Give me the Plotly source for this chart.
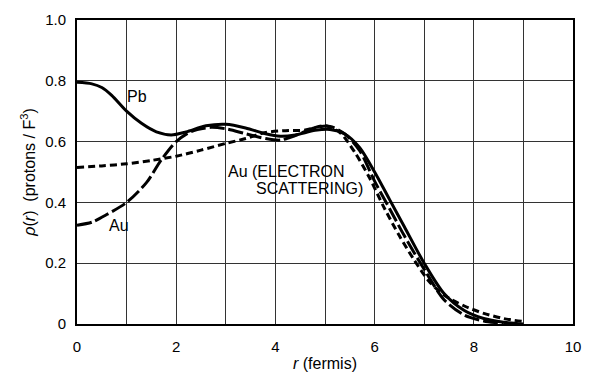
import plotly.graph_objects as go

# Pb (solid)
pb_r = [0, 0.3, 0.5, 0.7, 1.0, 1.3, 1.6, 1.9, 2.2, 2.6, 3.0, 3.4, 3.8, 4.1, 4.4, 4.8, 5.1, 5.4, 5.7, 6.0, 6.3, 6.6, 7.0, 7.4, 7.8, 8.2, 8.6, 9.0]
pb_rho = [0.795, 0.79, 0.778, 0.752, 0.70, 0.66, 0.632, 0.622, 0.632, 0.652, 0.657, 0.645, 0.626, 0.618, 0.622, 0.637, 0.64, 0.625, 0.58, 0.50, 0.41, 0.32, 0.20, 0.10, 0.045, 0.018, 0.006, 0.0]

# Au (long dash)
au_r = [0, 0.3, 0.6, 1.0, 1.4, 1.7, 2.0, 2.3, 2.7, 3.0, 3.4, 3.8, 4.1, 4.4, 4.8, 5.1, 5.4, 5.7, 6.0, 6.3, 6.6, 7.0, 7.4, 7.8, 8.2, 8.6]
au_rho = [0.325, 0.335, 0.36, 0.40, 0.465, 0.54, 0.60, 0.633, 0.647, 0.642, 0.626, 0.61, 0.605, 0.62, 0.646, 0.65, 0.625, 0.57, 0.47, 0.38, 0.29, 0.18, 0.08, 0.03, 0.01, 0.002]

# Au electron scattering (short dash)
el_r = [0, 0.5, 1.0, 1.5, 2.0, 2.5, 3.0, 3.4, 3.8, 4.2, 4.6, 5.0, 5.3, 5.6, 5.9, 6.2, 6.5, 6.8, 7.1, 7.4, 7.8, 8.2, 8.6, 9.0]
el_rho = [0.515, 0.52, 0.527, 0.538, 0.552, 0.572, 0.594, 0.61, 0.63, 0.636, 0.638, 0.652, 0.63, 0.565, 0.48, 0.38, 0.29, 0.21, 0.14, 0.095, 0.06, 0.035, 0.018, 0.008]

x_ticks = [0, 2, 4, 6, 8, 10]
x_labels = ["0", "2", "4", "6", "8", "10"]
x_minor = [1, 3, 5, 7, 9]
y_ticks = [0, 0.2, 0.4, 0.6, 0.8, 1.0]
y_labels = ["0", "0.2", "0.4", "0.6", "0.8", "1.0"]

FONT = "Liberation Sans, Arial, sans-serif"

fig = go.Figure()
fig.add_trace(go.Scatter(x=el_r, y=el_rho, mode="lines", hoverinfo="skip",
                         line=dict(color="black", width=3, dash="7px,4px", shape="spline", smoothing=0.8)))
fig.add_trace(go.Scatter(x=au_r, y=au_rho, mode="lines", hoverinfo="skip",
                         line=dict(color="black", width=3, dash="15px,4px", shape="spline", smoothing=0.8)))
fig.add_trace(go.Scatter(x=pb_r, y=pb_rho, mode="lines", hoverinfo="skip",
                         line=dict(color="black", width=3, shape="spline", smoothing=0.8)))

ann = dict(showarrow=False, font=dict(family=FONT, size=16, color="black"), xanchor="left")
fig.add_annotation(x=0.97, y=0.75, text="Pb", **ann)
fig.add_annotation(x=0.6, y=0.325, text="Au", **ann)
fig.add_annotation(x=3.0, y=0.502, text="Au (ELECTRON", **ann)
fig.add_annotation(x=3.57, y=0.446, text="SCATTERING)", **ann)

fig.update_layout(
    width=592, height=381,
    margin=dict(l=77, r=11, t=18, b=51),
    paper_bgcolor="white", plot_bgcolor="white",
    showlegend=False,
    font=dict(family=FONT, size=15, color="black"),
    xaxis=dict(range=[0, 10], tickvals=x_ticks, ticktext=x_labels, showgrid=True,
               gridcolor="#333", gridwidth=1, showline=True, linecolor="black", linewidth=2,
               mirror=True, ticks="", zeroline=False, ticklabelstandoff=8,
               minor=dict(tickvals=x_minor, showgrid=True, gridcolor="#333", gridwidth=1, ticks=""),
               title=dict(text="<i>r</i> (fermis)", standoff=4, font=dict(size=16))),
    yaxis=dict(range=[0, 1.0], tickvals=y_ticks, ticktext=y_labels, showgrid=True,
               gridcolor="#333", gridwidth=1, showline=True, linecolor="black", linewidth=2,
               mirror=True, ticks="", zeroline=False, ticklabelstandoff=6,
               title=dict(text="<i>ρ</i>(<i>r</i>)  (protons / F<sup>3</sup>)", standoff=6, font=dict(size=16))),
)

fig.write_html("out.html", config={"displayModeBar": False},
               post_script="document.body.style.margin='0px';")
